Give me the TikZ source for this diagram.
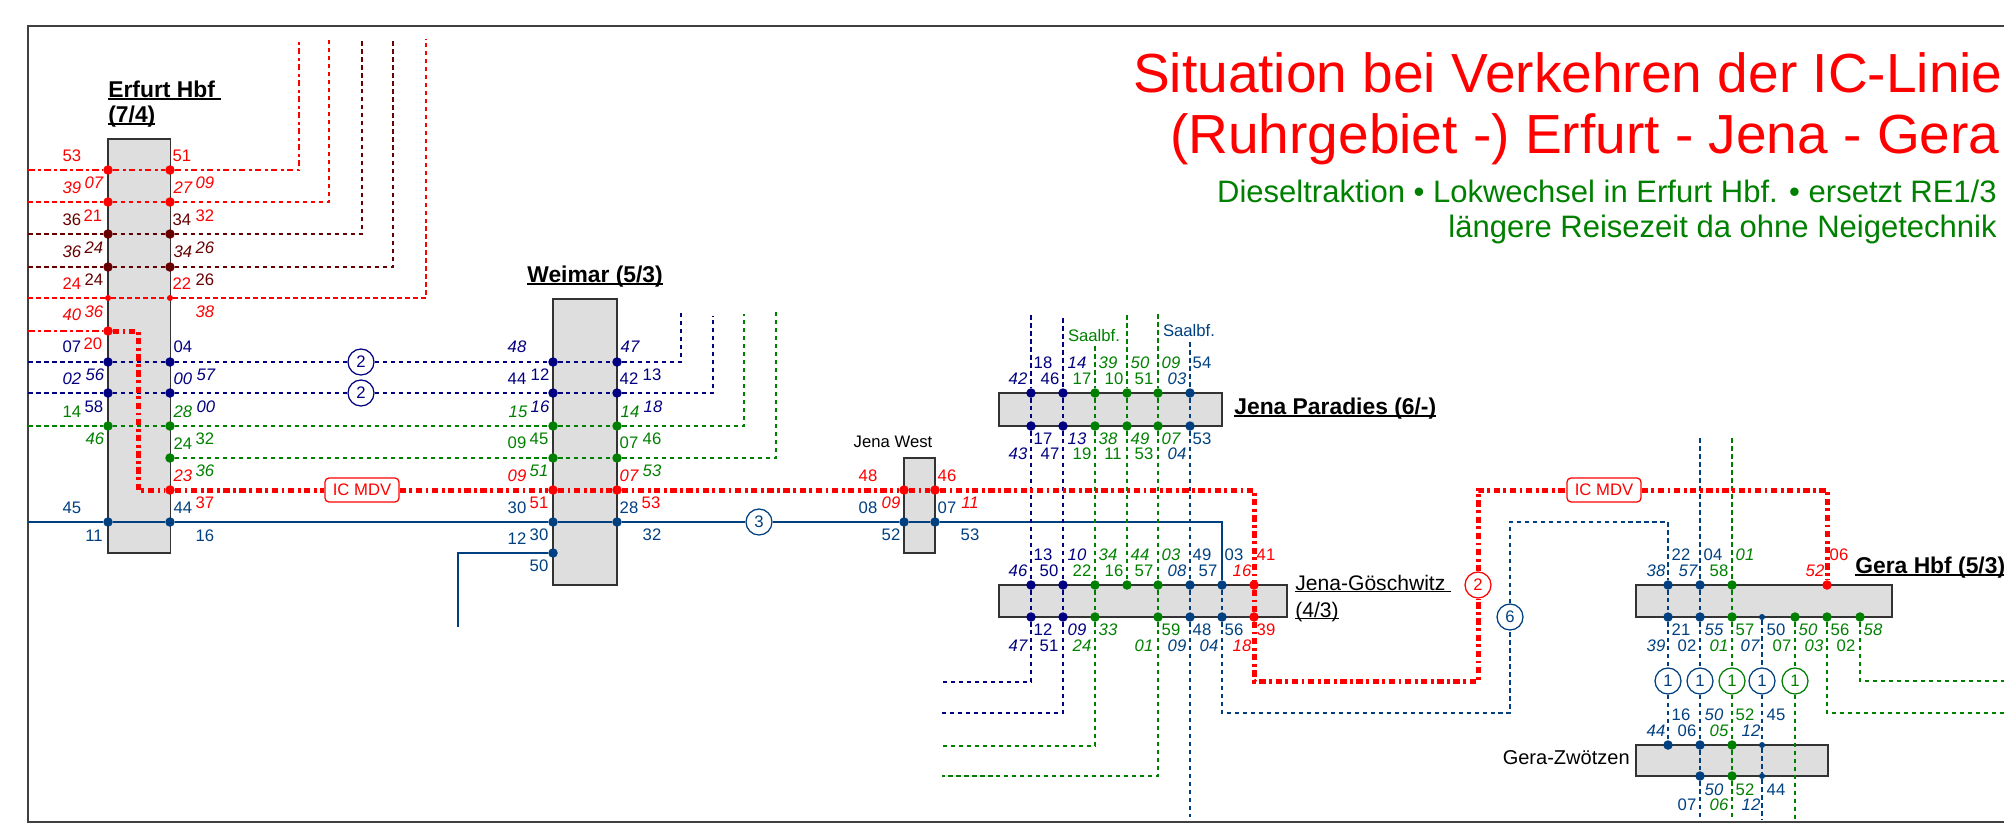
\documentclass[tikz,border=0pt]{standalone}
\usepackage{fontspec}
\setmainfont{Liberation Sans}
\definecolor{cRot}{HTML}{FF0000}
\definecolor{cBraun}{HTML}{660000}
\definecolor{cNavy}{HTML}{000080}
\definecolor{cGruen}{HTML}{008000}
\definecolor{cBlau}{HTML}{004080}
\newcommand{\unterstr}[1]{\setbox0\hbox{#1}\rlap{\rule[-0.11em]{\wd0}{0.07em}}\box0}
\tikzset{
	zeit/.style={inner sep=0pt,font=\fontsize{9.5}{11}\selectfont},
	zeitk/.style={inner sep=0pt,font=\fontsize{9.5}{11}\selectfont\itshape},
	bahnhof/.style={draw=black!80,fill=black!13,line width=0.03cm,inner sep=0pt,outer sep=0pt},
	titel/.style={inner sep=0pt,anchor=base east,text=cRot,font=\fontsize{31.35}{34}\selectfont},
	untertitel/.style={inner sep=0pt,anchor=base east,text=cGruen,font=\fontsize{17.65}{20}\selectfont},
	hbfname/.style={inner sep=0pt,anchor=base west,font=\fontsize{13}{15}\selectfont\bfseries},
	bfname/.style={inner sep=0pt,anchor=base west,font=\fontsize{12}{14}\selectfont},
	punkt/.style={circle,inner sep=0pt,outer sep=0pt,minimum size=0.19cm},
	kpunkt/.style={circle,inner sep=0pt,outer sep=0pt,minimum size=0.12cm},
	takt/.style={circle,draw,fill=white,line width=0.025cm,inner sep=0pt,minimum size=0.52cm,font=\fontsize{9.5}{11}\selectfont},
	iclabel/.style={draw=cRot,text=cRot,fill=white,rounded corners=0.08cm,line width=0.025cm,inner sep=0pt,minimum width=1.48cm,minimum height=0.48cm,font=\fontsize{9.5}{11}\selectfont},
	strich/.style={line width=0.025cm,dash pattern=on 2.7pt off 1.85pt},
	strichpkt/.style={line width=0.025cm,dash pattern=on 3.8pt off 1.8pt on 1.7pt off 1.8pt},
	voll/.style={line width=0.03cm,cBlau},
	icline/.style={line width=0.1cm,cRot,dash pattern=on 3.6pt off 2pt on 1.6pt off 2pt}
}
\begin{document}
\begin{tikzpicture}[x=0.02cm,y=-0.02cm]
	\clip (0,0) rectangle (2004,829);
	
	% Rahmen
	\draw[line width=0.04cm,black!75] (2004,26) -- (28,26) -- (28,822) -- (2004,822);
	
	% Titel
	\node[titel] (titel1) at (2003,92) {Situation bei Verkehren der IC-Linie};
	\node[titel] (titel2) at (2000,153) {(Ruhrgebiet -) Erfurt - Jena - Gera};
	\node[untertitel] (titel3) at (1997,202) {Dieseltraktion • Lokwechsel in Erfurt Hbf. • ersetzt RE1/3};
	\node[untertitel] (titel4) at (1997,237) {längere Reisezeit da ohne Neigetechnik};
	
	% Bahnhoefe
	\node[bahnhof,minimum width=1.25cm,minimum height=8.28cm] (erfurt) at (139.25,346) {};
	\node[bahnhof,minimum width=1.28cm,minimum height=5.72cm] (weimar) at (585,442) {};
	\node[bahnhof,minimum width=0.62cm,minimum height=1.9cm] (jenawest) at (919.5,505.5) {};
	\node[bahnhof,minimum width=4.46cm,minimum height=0.66cm] (paradies) at (1110.5,409.5) {};
	\node[bahnhof,minimum width=5.76cm,minimum height=0.64cm] (goeschwitz) at (1143,601) {};
	\node[bahnhof,minimum width=5.12cm,minimum height=0.64cm] (gerahbf) at (1764,601) {};
	\node[bahnhof,minimum width=3.84cm,minimum height=0.62cm] (zwoetzen) at (1732,760.5) {};
	
	% Namen
	\node[hbfname] (nErfurt) at (108,97) {\unterstr{Erfurt Hbf\ }};
	\node[hbfname] (nErfurtb) at (108,122) {\unterstr{(7/4)}};
	\node[hbfname] (nWeimar) at (527,282) {\unterstr{Weimar (5/3)}};
	\node[hbfname] (nParadies) at (1234,414) {\unterstr{Jena Paradies (6/-)}};
	\node[hbfname] (nGera) at (1855,573) {\unterstr{Gera Hbf (5/3)}};
	\node[bfname] (nGoesch) at (1295,590) {\unterstr{Jena-Göschwitz\ }};
	\node[bfname] (nGoeschb) at (1295,617) {\unterstr{(4/3)}};
	\node[zeit] (nWest) at (893,442) {Jena West};
	\node[zeit,anchor=east,font=\fontsize{11.4}{13}\selectfont] (nZwoetzen) at (1630,758) {Gera-Zwötzen};
	\node[zeit,text=cGruen] (nSaalA) at (1094,336) {Saalbf.};
	\node[zeit,text=cBlau] (nSaalB) at (1189,331) {Saalbf.};
	
	% Punkte
	\foreach \x/\y in {108/170,170/170,108/202,170/202,108/331,170/490,553/490,617/490,904/490,935/490,1254/585,1254/617,1827/585}
	\node[punkt,fill=cRot] (d\x-\y) at (\x,\y) {};
	\foreach \x/\y in {108/298,170/298}
	\node[kpunkt,fill=cRot] (d\x-\y) at (\x,\y) {};
	\foreach \x/\y in {108/234,170/234,108/267,170/267}
	\node[punkt,fill=cBraun] (d\x-\y) at (\x,\y) {};
	\foreach \x/\y in {108/362,170/362,108/393,170/393,553/362,617/362,553/393,617/393,1031/393,1063/393,1031/426,1063/426,1031/585,1063/585,1031/617,1063/617}
	\node[punkt,fill=cNavy] (d\x-\y) at (\x,\y) {};
	\foreach \x/\y in {108/426,170/426,170/458,553/426,617/426,553/458,617/458,1095/393,1127/393,1158/393,1095/426,1127/426,1158/426,1095/585,1127/585,1158/585,1095/617,1158/617,1732/585,1732/617,1795/617,1827/617,1860/617,1732/745,1732/776}
	\node[punkt,fill=cGruen] (d\x-\y) at (\x,\y) {};
	\foreach \x/\y in {108/522,170/522,553/522,617/522,553/553,904/522,935/522,1190/393,1190/426,1190/585,1222/585,1190/617,1222/617,1668/585,1700/585,1668/617,1700/617,1668/745,1700/745,1700/776}
	\node[punkt,fill=cBlau] (d\x-\y) at (\x,\y) {};
	\foreach \x/\y in {1762/617,1762/745,1762/776}
	\node[kpunkt,fill=cBlau] (d\x-\y) at (\x,\y) {};
	
	% Taktkreise
	\node[takt,draw=cNavy,text=cNavy] (k2a) at (361,362) {2};
	\node[takt,draw=cNavy,text=cNavy] (k2b) at (361,393) {2};
	\node[takt,draw=cBlau,text=cBlau] (k3) at (759,522) {3};
	\node[takt,draw=cRot,text=cRot] (k2c) at (1478,585) {2};
	\node[takt,draw=cBlau,text=cBlau] (k6) at (1510,617) {6};
	\node[takt,draw=cBlau,text=cBlau] (k1a) at (1668,681) {1};
	\node[takt,draw=cBlau,text=cBlau] (k1b) at (1700,681) {1};
	\node[takt,draw=cGruen,text=cGruen] (k1c) at (1732,681) {1};
	\node[takt,draw=cBlau,text=cBlau] (k1d) at (1762,681) {1};
	\node[takt,draw=cGruen,text=cGruen] (k1e) at (1795,681) {1};
	\node[iclabel] (icA) at (362,490) {IC MDV};
	\node[iclabel] (icB) at (1604,490) {IC MDV};
	
	% Freie Enden
	\foreach \y in {170,202,234,267,298,331,362,393,426,522}
	\coordinate (w\y) at (28,\y);
	\foreach \x in {299,329,362,393,426}
	\coordinate (n\x) at (\x,39);
	\coordinate (nw1) at (681,313);
	\coordinate (nw2) at (713,316);
	\coordinate (nw3) at (744,314);
	\coordinate (nw4) at (776,312);
	\foreach \x/\y in {1031/315,1063/318,1095/346,1127/315,1158/314,1190/342,1700/438,1732/438}
	\coordinate (o\x) at (\x,\y);
	\foreach \x/\y in {1031/682,1063/713,1095/746,1158/776}{
		\coordinate (u\x) at (\x,\y);
		\coordinate (l\x) at (942,\y);
	}
	\foreach \x in {1700,1732,1762,1795}
	\coordinate (s\x) at (\x,820);
	\coordinate (s1190) at (1190,817);
	\coordinate (eBlau) at (1222,522);
	\coordinate (fBlau1) at (458,553);
	\coordinate (fBlau2) at (458,627);
	\coordinate (b1) at (1222,713);
	\coordinate (b2) at (1510,713);
	\coordinate (b3) at (1510,522);
	\coordinate (b4) at (1668,522);
	\coordinate (g1) at (1827,713);
	\coordinate (g2) at (2004,713);
	\coordinate (g3) at (1860,681);
	\coordinate (g4) at (2004,681);
	\coordinate (eck1) at (138,331);
	\coordinate (eck2) at (138,490);
	\coordinate (eck3) at (1254,490);
	\coordinate (eck4) at (1254,681);
	\coordinate (eck5) at (1478,681);
	\coordinate (eck6) at (1478,490);
	\coordinate (eck7) at (1827,490);
	
	% Linien Erfurt nach oben
	\draw[strichpkt,cRot] (w170) -- (d108-170) -- (d170-170) -| (n299);
	\draw[strich,cRot] (w202) -- (d108-202) -- (d170-202) -| (n329);
	\draw[strich,cBraun] (w234) -- (d108-234) -- (d170-234) -| (n362);
	\draw[strich,cBraun] (w267) -- (d108-267) -- (d170-267) -| (n393);
	\draw[strich,cRot] (w298) -- (d108-298) -- (d170-298) -| (n426);
	\draw[strichpkt,cRot] (w331) -- (d108-331);
	
	% Linien Erfurt - Weimar
	\draw[strich,cNavy] (w362) -- (d108-362) -- (d170-362) -- (k2a) -- (d553-362) -- (d617-362) -| (nw1);
	\draw[strich,cNavy] (w393) -- (d108-393) -- (d170-393) -- (k2b) -- (d553-393) -- (d617-393) -| (nw2);
	\draw[strich,cGruen] (w426) -- (d108-426) -- (d170-426) -- (d553-426) -- (d617-426) -| (nw3);
	\draw[strich,cGruen] (d170-458) -- (d553-458) -- (d617-458) -| (nw4);
	
	% Regionalbahn durchgehend
	\draw[voll] (w522) -- (d108-522) -- (d170-522) -- (d553-522) -- (d617-522) -- (k3) -- (d904-522) -- (d935-522) -- (eBlau) -- (d1222-585);
	\draw[voll] (d553-553) -- (fBlau1) -- (fBlau2);
	
	% Senkrechte Jena
	\draw[strich,cNavy] (o1031) -- (d1031-393) -- (d1031-426) -- (d1031-585) -- (d1031-617) -- (u1031) -- (l1031);
	\draw[strich,cNavy] (o1063) -- (d1063-393) -- (d1063-426) -- (d1063-585) -- (d1063-617) -- (u1063) -- (l1063);
	\draw[strich,cGruen] (o1095) -- (d1095-393) -- (d1095-426) -- (d1095-585) -- (d1095-617) -- (u1095) -- (l1095);
	\draw[strich,cGruen] (o1127) -- (d1127-393) -- (d1127-426) -- (d1127-585);
	\draw[strich,cGruen] (o1158) -- (d1158-393) -- (d1158-426) -- (d1158-585) -- (d1158-617) -- (u1158) -- (l1158);
	\draw[strich,cBlau] (o1190) -- (d1190-393) -- (d1190-426) -- (d1190-585) -- (d1190-617) -- (s1190);
	
	% Richtung Gera
	\draw[strich,cBlau] (d1222-585) -- (d1222-617) -- (b1) -- (b2) -- (k6) -- (b3) -- (b4) -- (d1668-585) -- (d1668-617) -- (k1a) -- (d1668-745);
	\draw[strich,cBlau] (o1700) -- (d1700-585) -- (d1700-617) -- (k1b) -- (d1700-745) -- (d1700-776) -- (s1700);
	\draw[strich,cGruen] (o1732) -- (d1732-585) -- (d1732-617) -- (k1c) -- (d1732-745) -- (d1732-776) -- (s1732);
	\draw[strich,cBlau] (d1762-617) -- (k1d) -- (d1762-745) -- (d1762-776) -- (s1762);
	\draw[strich,cGruen] (d1795-617) -- (k1e) -- (s1795);
	\draw[strich,cGruen] (d1827-617) -- (g1) -- (g2);
	\draw[strich,cGruen] (d1860-617) -- (g3) -- (g4);
	
	% IC-Linie
	\draw[icline] (d108-331) -- (eck1) -- (eck2) -- (d170-490) -- (icA) -- (d553-490) -- (d617-490) -- (d904-490) -- (d935-490) -- (eck3) -- (d1254-585) -- (d1254-617) -- (eck4) -- (eck5) -- (k2c) -- (eck6) -- (icB) -- (eck7) -- (d1827-585);
	
	% Zeiten rot
	\foreach \x/\y/\t in {72/156/53,182/156/51,93/216/21,205/216/32,72/284/24,182/284/22,93/344/20,205/503/37,539/503/51,651/503/53,868/476/48,947/476/46,1266/555/41,1266/630/39,1839/555/06}
	\node[zeit,text=cRot] (z\x-\y) at (\x,\y) {\t};
	\foreach \x/\y/\t in {72/188/39,94/183/07,183/188/27,205/183/09,72/315/40,94/312/36,205/312/38,183/476/23,517/476/09,629/476/07,891/503/09,970/503/11,1242/571/16,1242/646/18,1815/571/52}
	\node[zeitk,text=cRot] (z\x-\y) at (\x,\y) {\t};
	
	% Zeiten braun
	\foreach \x/\y/\t in {72/220/36,182/220/34,94/280/24,205/280/26}
	\node[zeit,text=cBraun] (z\x-\y) at (\x,\y) {\t};
	\foreach \x/\y/\t in {72/252/36,94/248/24,183/252/34,205/248/26}
	\node[zeitk,text=cBraun] (z\x-\y) at (\x,\y) {\t};
	
	% Zeiten navy
	\foreach \x/\y/\t in {72/347/07,183/347/04,94/407/58,517/379/44,540/375/12,629/379/42,652/375/13,1043/363/18,1050/379/46,1043/439/17,1050/454/47,1043/555/13,1049/571/50,1043/630/12,1049/646/51}
	\node[zeit,text=cNavy] (z\x-\y) at (\x,\y) {\t};
	\foreach \x/\y/\t in {72/379/02,95/375/56,183/379/00,206/375/57,206/407/00,517/347/48,630/347/47,540/407/16,653/407/18,1077/363/14,1018/379/42,1077/439/13,1018/454/43,1077/555/10,1018/571/46,1077/630/09,1018/646/47}
	\node[zeitk,text=cNavy] (z\x-\y) at (\x,\y) {\t};
	
	% Zeiten gruen
	\foreach \x/\y/\t in {72/412/14,183/444/24,205/439/32,517/443/09,539/439/45,629/443/07,652/439/46,1082/379/17,1114/379/10,1144/379/51,1082/454/19,1113/454/11,1144/454/53,1082/571/22,1114/571/16,1144/571/57,1171/630/59,1719/571/58,1745/630/57,1840/630/56,1782/646/07,1846/646/02,1745/715/52,1745/790/52}
	\node[zeit,text=cGruen] (z\x-\y) at (\x,\y) {\t};
	\foreach \x/\y/\t in {183/412/28,95/439/46,205/471/36,518/412/15,630/412/14,539/471/51,652/471/53,1108/363/39,1140/363/50,1171/363/09,1108/439/38,1140/439/49,1171/439/07,1108/555/34,1140/555/44,1171/555/03,1108/630/33,1082/646/24,1144/646/01,1745/555/01,1808/630/50,1873/630/58,1719/646/01,1814/646/03,1719/731/05,1719/805/06}
	\node[zeitk,text=cGruen] (z\x-\y) at (\x,\y) {\t};
	
	% Zeiten blau
	\foreach \x/\y/\t in {183/508/44,72/508/45,94/536/11,205/536/16,517/508/30,629/508/28,517/539/12,539/535/30,652/535/32,539/566/50,868/508/08,891/535/52,947/508/07,970/535/53,1202/363/54,1202/439/53,1202/555/49,1234/555/03,1208/571/57,1202/630/48,1234/630/56,1681/555/22,1713/555/04,1681/630/21,1687/646/02,1776/630/50,1681/715/16,1776/715/45,1687/731/06,1776/790/44,1687/805/07}
	\node[zeit,text=cBlau] (z\x-\y) at (\x,\y) {\t};
	\foreach \x/\y/\t in {1177/379/03,1177/454/04,1177/571/08,1177/646/09,1209/646/04,1656/571/38,1688/571/57,1656/646/39,1714/630/55,1750/646/07,1714/715/50,1656/731/44,1751/731/12,1714/790/50,1751/805/12}
	\node[zeitk,text=cBlau] (z\x-\y) at (\x,\y) {\t};
	
\end{tikzpicture}
\end{document}
